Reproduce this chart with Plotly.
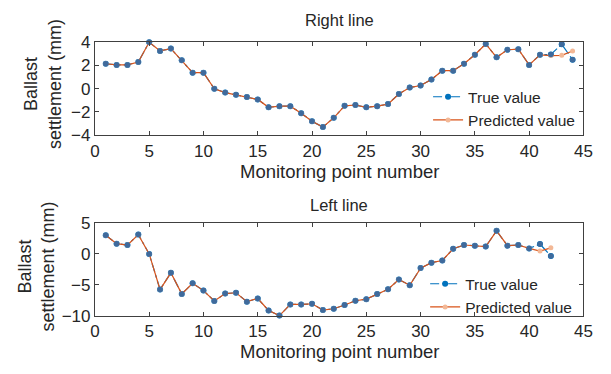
import plotly.graph_objects as go

# Monitoring data: ballast settlement (mm) per monitoring point
right_points = list(range(1, 45))
right_true = [2.15, 2.05, 2.05, 2.3, 4.0, 3.25, 3.45, 2.45, 1.38, 1.38,
              0.0, -0.33, -0.52, -0.71, -0.92, -1.6, -1.5, -1.5, -2.1, -2.8,
              -3.3, -2.5, -1.47, -1.4, -1.6, -1.5, -1.32, -0.45, 0.1, 0.28,
              0.8, 1.55, 1.55, 2.15, 2.92, 3.85, 2.7, 3.35, 3.4, 2.05,
              2.92, 2.95, 3.82, 2.5]
right_pred = [2.15, 2.05, 2.05, 2.3, 4.0, 3.25, 3.45, 2.45, 1.38, 1.38,
              0.0, -0.33, -0.52, -0.71, -0.92, -1.6, -1.5, -1.5, -2.1, -2.8,
              -3.3, -2.5, -1.47, -1.4, -1.6, -1.5, -1.32, -0.45, 0.1, 0.28,
              0.8, 1.55, 1.55, 2.15, 2.92, 3.85, 2.7, 3.35, 3.4, 2.05,
              2.92, 2.85, 2.87, 3.25]

left_points = list(range(1, 43))
left_true = [2.97, 1.6, 1.38, 3.06, -0.05, -5.8, -3.1, -6.5, -4.8, -5.97,
             -7.65, -6.45, -6.32, -7.75, -7.24, -9.18, -10.0, -8.2, -8.2, -8.1,
             -9.1, -8.9, -8.3, -7.6, -7.35, -6.52, -5.76, -4.18, -5.1, -2.34,
             -1.47, -1.12, 0.77, 1.38, 1.28, 1.13, 3.67, 1.28, 1.38, 0.83,
             1.53, -0.4]
left_pred = [2.97, 1.6, 1.38, 3.06, -0.05, -5.8, -3.1, -6.5, -4.8, -5.97,
             -7.65, -6.45, -6.32, -7.75, -7.24, -9.18, -10.0, -8.2, -8.2, -8.1,
             -9.1, -8.9, -8.3, -7.6, -7.35, -6.52, -5.76, -4.18, -5.1, -2.34,
             -1.47, -1.12, 0.77, 1.38, 1.28, 1.13, 3.67, 1.28, 1.38, 0.83,
             0.41, 0.92]

x_ticks = [0, 5, 10, 15, 20, 25, 30, 35, 40, 45]
right_y_ticks = [-4, -2, 0, 2, 4]
left_y_ticks = [-10, -5, 0, 5]

W, H = 611, 374
FONT = "Liberation Sans, Arial, sans-serif"
TXT = "#262626"
BLUE = "#0072BD"
ORANGE = "#D95319"
DOT = "#3f6a9c"
PALE = "#f3b896"


def px_x(p):
    return p / W


def px_y(p):
    return 1 - p / H


fig = go.Figure()


def add_panel(xs, true_v, pred_v, xa, ya, leg):
    # true values: dash-dot line with dots (line sits under the prediction)
    fig.add_trace(go.Scatter(
        x=xs, y=true_v, name="True value", mode="lines+markers",
        line=dict(color=BLUE, width=1.2, dash="dashdot"),
        marker=dict(color=BLUE, size=6),
        xaxis=xa, yaxis=ya, legend=leg, cliponaxis=False))
    # predicted values: solid orange line with pale circles
    fig.add_trace(go.Scatter(
        x=xs, y=pred_v, name="Predicted value", mode="lines+markers",
        line=dict(color=ORANGE, width=1.2),
        marker=dict(color=PALE, size=5),
        xaxis=xa, yaxis=ya, legend=leg, cliponaxis=False))
    # true-value dots drawn on top where both series coincide
    fig.add_trace(go.Scatter(
        x=xs, y=true_v, mode="markers", showlegend=False,
        marker=dict(color=DOT, size=5.5),
        xaxis=xa, yaxis=ya, cliponaxis=False))


add_panel(right_points, right_true, right_pred, "x", "y", "legend")
add_panel(left_points, left_true, left_pred, "x2", "y2", "legend2")

axis_common = dict(
    showline=True, linecolor="#404040", linewidth=1, mirror="ticks",
    ticks="inside", ticklen=4, tickcolor="#404040", showgrid=False,
    zeroline=False, tickfont=dict(family=FONT, size=17, color=TXT),
)

x_dom = [px_x(92), px_x(592)]
legend_common = dict(xanchor="left", yanchor="top", bgcolor="rgba(0,0,0,0)",
                     font=dict(family=FONT, size=15.5, color=TXT),
                     tracegroupgap=0, itemwidth=30)
fig.update_layout(
    width=W, height=H,
    margin=dict(l=0, r=0, t=0, b=0),
    paper_bgcolor="white", plot_bgcolor="white",
    font=dict(family=FONT, color=TXT),
    xaxis=dict(domain=x_dom, range=[0, 45], tickvals=x_ticks, anchor="y",
               **axis_common),
    yaxis=dict(domain=[px_y(133), px_y(35)], range=[-4, 4],
               tickvals=right_y_ticks, anchor="x", **axis_common),
    xaxis2=dict(domain=x_dom, range=[0, 45], tickvals=x_ticks, anchor="y2",
                **axis_common),
    yaxis2=dict(domain=[px_y(323), px_y(225)], range=[-10, 5],
                tickvals=left_y_ticks, anchor="x2", **axis_common),
    legend=dict(x=px_x(433), y=px_y(75), **legend_common),
    legend2=dict(x=px_x(430), y=px_y(272), **legend_common),
)

ann = []
# panel titles
ann.append(dict(text="Right line", x=px_x(342), y=px_y(12), font=dict(size=16.5)))
ann.append(dict(text="Left line", x=px_x(342), y=px_y(207), font=dict(size=16.5)))
# x-axis titles
ann.append(dict(text="Monitoring point number", x=px_x(343), y=px_y(171), font=dict(size=18.5)))
ann.append(dict(text="Monitoring point number", x=px_x(343), y=px_y(361), font=dict(size=18.5)))
# y-axis titles
ann.append(dict(text="Ballast<br>settlement (mm)", x=px_x(39), y=px_y(79),
                textangle=-90, font=dict(size=18)))
ann.append(dict(text="Ballast<br>settlement (mm)", x=px_x(32), y=px_y(271),
                textangle=-90, font=dict(size=18)))
for a in ann:
    a.update(xref="paper", yref="paper", showarrow=False,
             xanchor="center", yanchor="middle")
    a["font"].update(family=FONT, color=TXT)
fig.update_layout(annotations=ann)

fig.write_html("out.html")
